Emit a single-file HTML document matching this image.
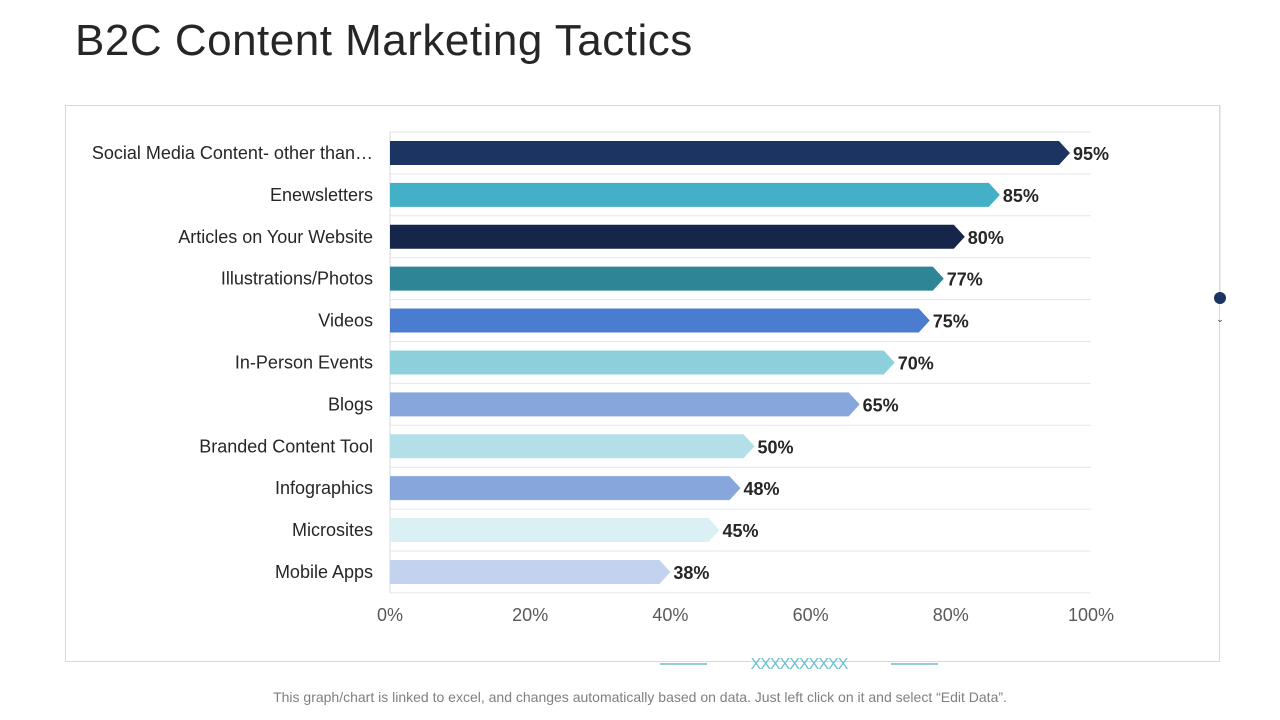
<!DOCTYPE html>
<html><head><meta charset="utf-8"><style>
body{margin:0;width:1280px;height:720px;background:#fff;font-family:"Liberation Sans",sans-serif;overflow:hidden;position:relative}
#title{position:absolute;left:75px;top:16px;font-size:44px;color:#262626;margin:0;font-weight:normal;letter-spacing:0.5px}
#frame{position:absolute;left:65px;top:105px;width:1155px;height:557px;border:1px solid #d9d9d9;box-sizing:border-box}
#note{position:absolute;left:0;width:1280px;top:689px;text-align:center;font-size:14px;color:#7f7f7f}
svg{position:absolute;left:0;top:0}
</style></head><body>
<h1 id="title">B2C Content Marketing Tactics</h1>
<div id="frame"></div>
<svg id="chart" width="1280" height="720">
<g>
<line x1="660" y1="664" x2="707" y2="664" stroke="#5aabbf" stroke-width="1.2"/>
<line x1="891" y1="664" x2="938" y2="664" stroke="#5aabbf" stroke-width="1.2"/>
<text x="799" y="669" text-anchor="middle" font-size="16" fill="#6cc0d0" letter-spacing="-1">XXXXXXXXXX</text>
</g>
<g>
<line x1="1220" y1="105" x2="1220" y2="292" stroke="#d9d9d9"/>
<circle cx="1220" cy="298" r="6" fill="#1c3461"/>
<text x="1220" y="322" text-anchor="middle" font-size="9" fill="#1c3461">⌄</text>
</g>
</svg>
<div id="note">This graph/chart is linked to excel, and changes automatically based on data. Just left click on it and select “Edit Data”.</div>
<script>
const categories=["Social Media Content- other than…","Enewsletters","Articles on Your Website","Illustrations/Photos","Videos","In-Person Events","Blogs","Branded Content Tool","Infographics","Microsites","Mobile Apps"];
const values=[95,85,80,77,75,70,65,50,48,45,38];
const colors=["#1c3461","#44b0c8","#16264a","#2e8595","#4a7ccf","#8dd0dc","#86a6dc","#b3e0e8","#86a6dc","#daf0f5","#c2d2ef"];
const ticks=[0,20,40,60,80,100];
const NS="http://www.w3.org/2000/svg";
const svg=document.getElementById('chart');
const x0=390,x1=1091,top0=132,rowH=41.9;
const x=v=>x0+(x1-x0)*v/100;
const y=i=>top0+rowH*(i+0.5);
function mk(t,a){const e=document.createElementNS(NS,t);for(const k in a)e.setAttribute(k,a[k]);svg.appendChild(e);return e;}
for(let i=0;i<=categories.length;i++){
 const g=mk('line',{x1:x0,x2:x1,y1:top0+rowH*i,y2:top0+rowH*i,stroke:'#e6e6e6'});
 
 
}
const ax=mk('line',{x1:x0,x2:x0,y1:top0,y2:top0+rowH*categories.length,stroke:'#d9d9d9'});


ticks.forEach(t=>{
 const e=mk('text',{x:x(t),y:621,'text-anchor':'middle','font-size':18,fill:'#595959'});
 e.textContent=t+'%';
 
 
});
categories.forEach((c,i)=>{
 const cy=y(i),h=24,tip=x(values[i])+14,body=tip-11;
 const p=mk('polygon',{points:`${x0},${cy-h/2} ${body},${cy-h/2} ${tip},${cy} ${body},${cy+h/2} ${x0},${cy+h/2}`,fill:colors[i]});
 
 
 const l=mk('text',{x:373,y:cy+6,'text-anchor':'end','font-size':18,fill:'#262626'});
 l.textContent=c;
 
 
 const v=mk('text',{x:tip+3,y:cy+7,'font-size':18,'font-weight':'bold',fill:'#262626'});
 v.textContent=values[i]+'%';
 
 
});
</script>
</body></html>
